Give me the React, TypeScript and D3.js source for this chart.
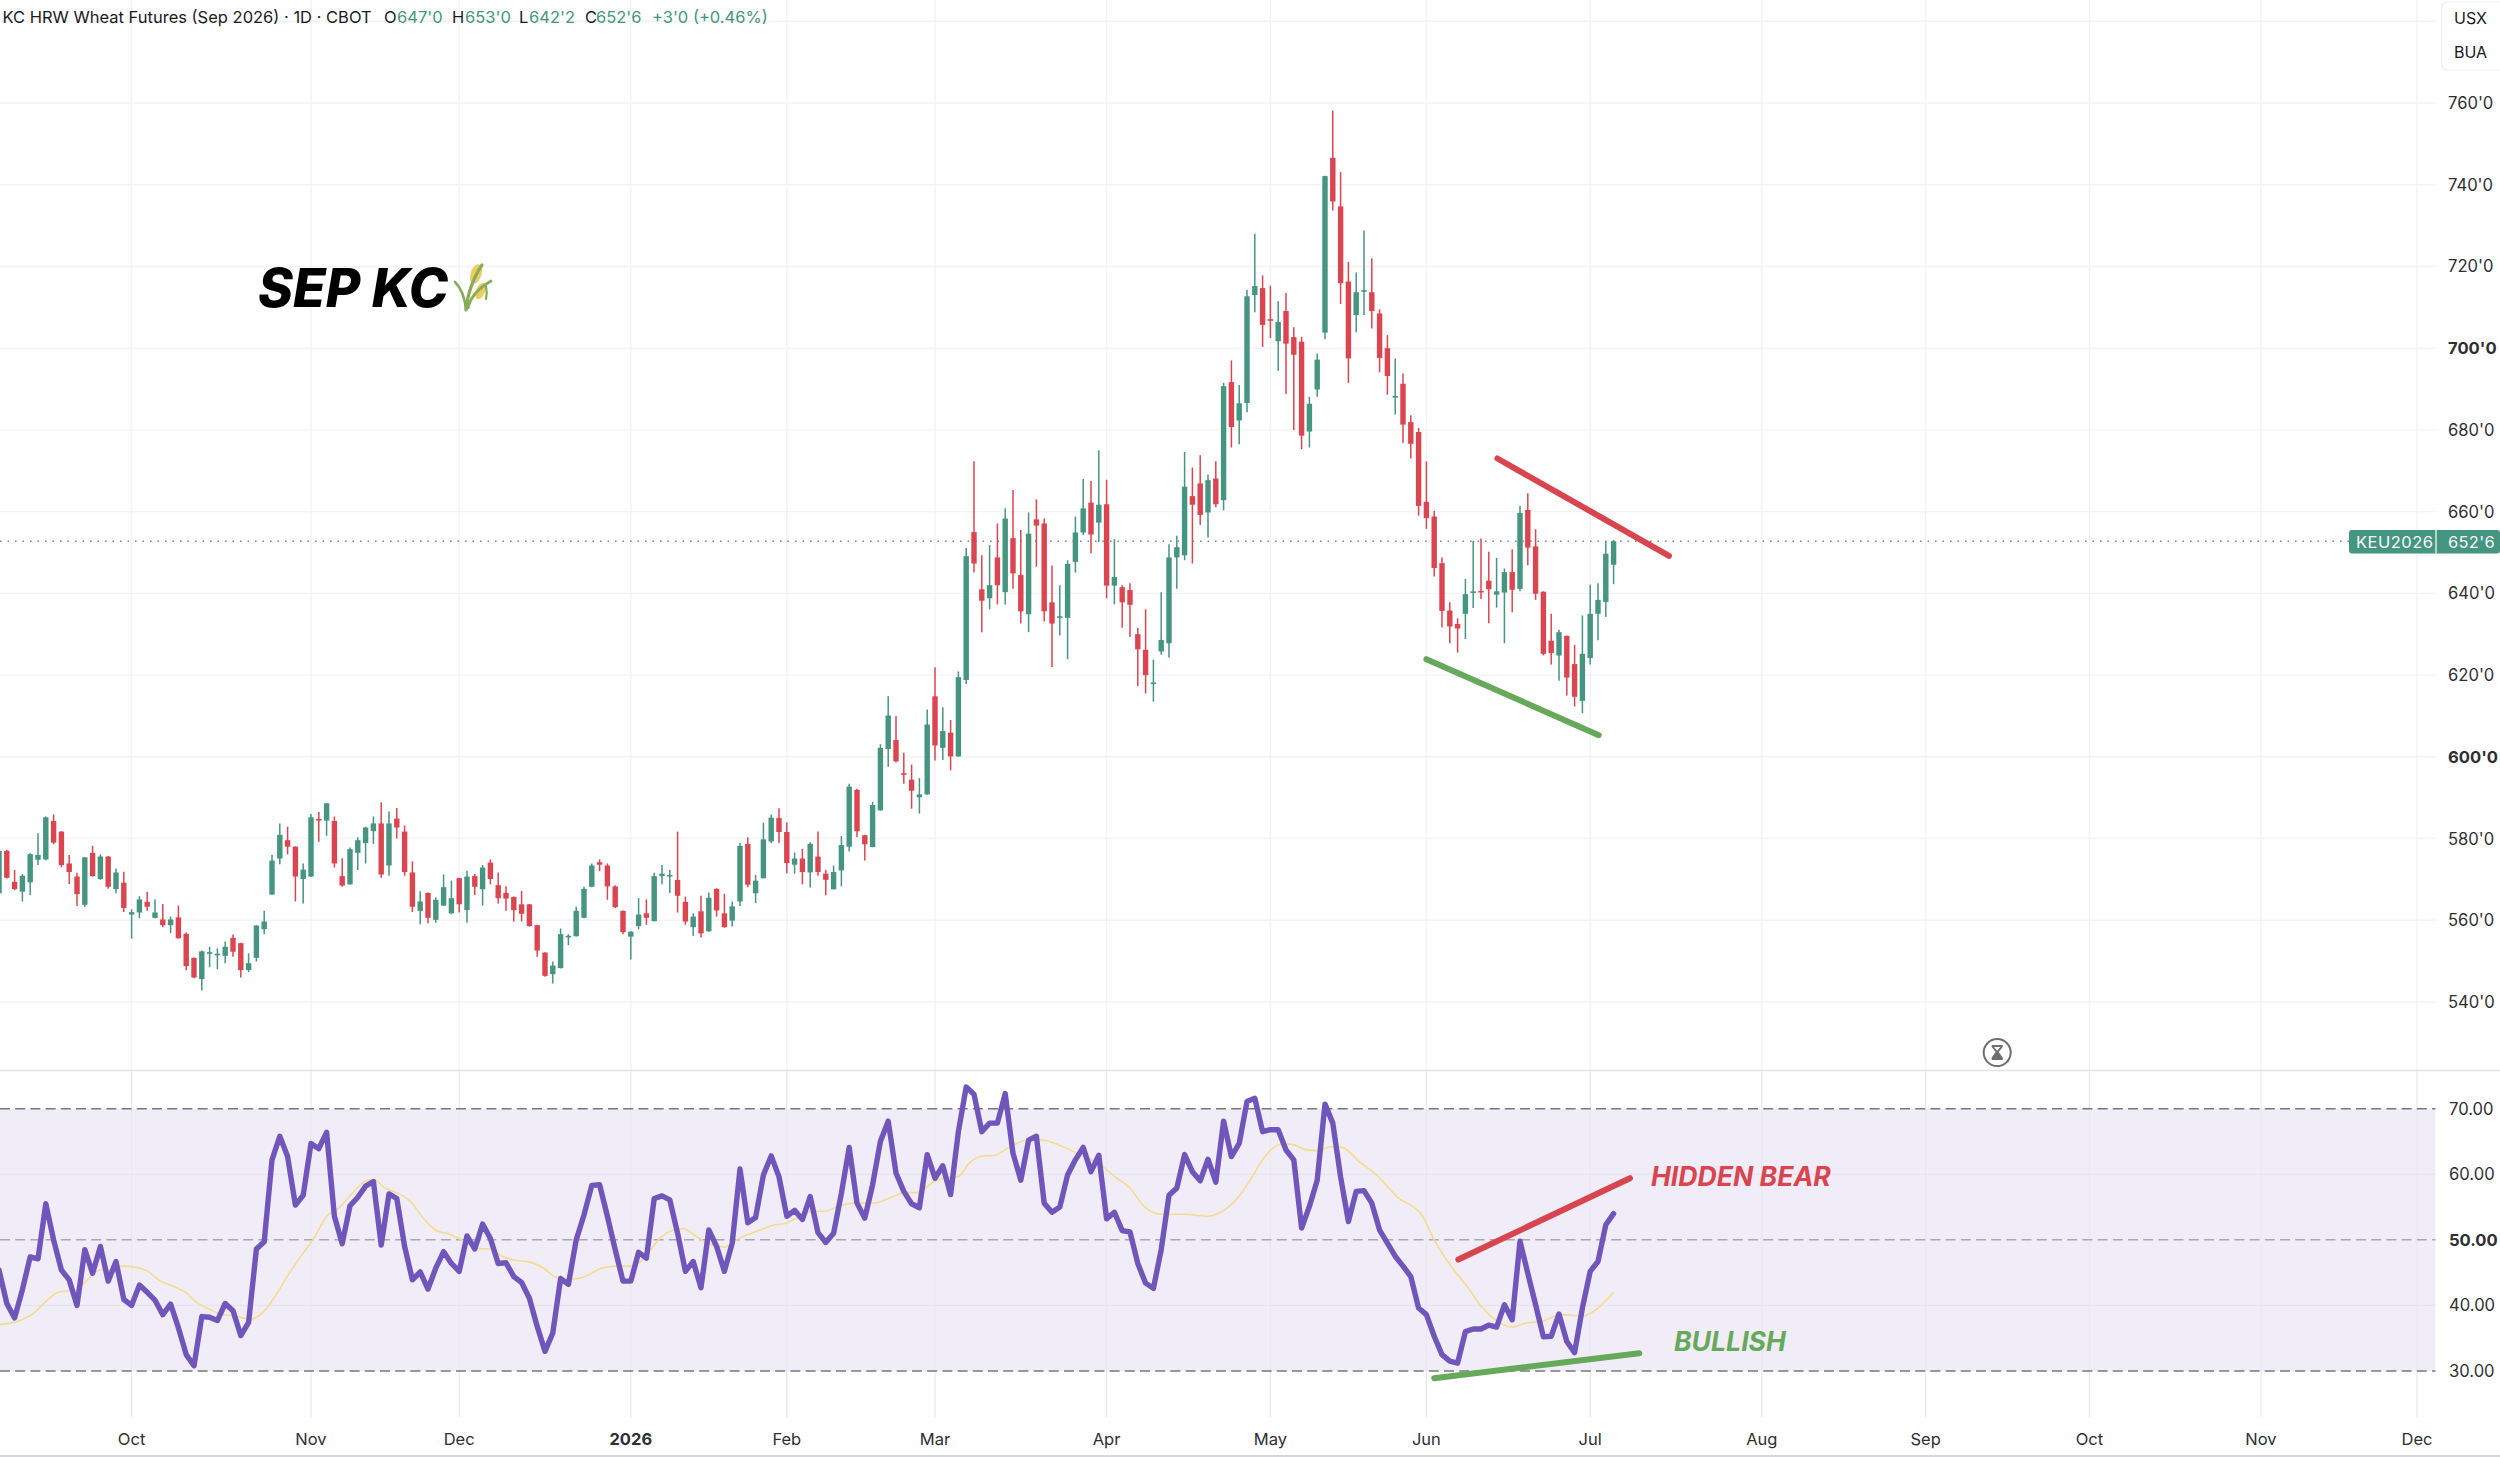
import React from "react";
import * as d3 from "d3";

const opens = [
566.6,577.0,569.4,567.0,569.3,574.8,574.9,584.3,581.7,573.9,
570.7,563.8,576.5,570.1,575.6,567.6,569.2,561.4,561.9,564.5,
560.6,560.2,558.8,560.7,556.7,550.8,545.6,552.0,551.6,551.3,
555.7,554.4,547.8,550.8,557.8,566.3,575.1,579.6,578.0,570.1,
570.7,584.8,584.4,584.3,570.8,568.8,576.5,578.9,581.8,583.7,
573.4,584.9,581.7,571.7,562.3,566.7,560.1,563.6,561.7,570.3,
562.5,570.8,567.6,574.1,568.6,566.7,565.7,563.9,563.9,558.8,
552.1,546.8,548.3,556.0,556.1,560.6,568.2,574.2,573.4,568.3,
562.3,556.0,558.6,561.7,559.8,570.8,570.9,569.9,564.5,558.3,
562.2,557.3,567.7,561.7,559.9,564.6,578.7,566.6,570.3,579.3,
585.0,581.6,573.6,575.1,571.7,575.6,571.4,567.6,572.2,578.0,
591.9,580.8,577.9,586.9,601.9,604.1,596.0,594.4,590.1,590.8,
614.8,602.2,605.9,600.1,618.8,655.0,641.0,638.8,648.8,640.3,
653.5,644.5,634.9,658.1,657.1,637.8,634.0,634.0,647.7,654.9,
662.2,657.3,661.8,641.9,641.5,640.8,630.0,626.2,617.8,625.8,
627.8,648.8,649.3,663.8,666.9,659.8,668.1,662.8,691.7,682.3,
686.6,713.0,714.7,707.1,701.7,709.1,702.7,701.6,679.6,689.9,
703.8,746.6,734.7,716.3,708.1,713.8,713.7,708.5,700.0,687.9,
691.3,681.9,679.5,662.4,658.8,647.4,635.8,632.5,635.0,640.3,
640.6,643.1,639.7,640.2,645.2,641.1,660.4,651.5,640.4,628.4,
624.8,629.6,622.7,613.7,624.2,635.0,637.9,647.0];

const closes = [
577.0,570.4,567.6,570.9,576.2,576.0,585.2,579.0,573.5,571.8,
566.4,575.4,570.8,575.6,568.2,571.7,563.0,562.0,565.1,563.3,
561.9,558.8,560.2,555.6,548.8,546.0,552.4,552.2,551.8,553.5,
552.3,547.8,549.5,558.7,559.7,574.6,580.9,578.0,570.7,572.4,
585.2,584.6,588.6,573.9,568.5,577.4,579.6,582.7,583.7,571.2,
583.7,582.7,571.8,563.3,564.6,560.6,565.0,568.1,565.4,563.9,
570.7,568.2,572.9,570.1,565.4,565.3,562.5,561.6,558.6,552.6,
546.4,548.9,556.6,556.2,562.3,567.7,573.4,573.6,568.3,563.2,
557.1,557.2,561.4,560.6,570.8,571.4,571.1,566.0,559.7,560.9,
556.8,565.5,562.4,558.3,563.4,578.2,568.7,569.7,579.8,585.1,
581.6,574.0,575.1,571.8,578.7,571.8,569.9,571.8,578.4,592.7,
581.8,578.6,588.2,602.2,610.1,598.9,595.6,591.7,590.8,607.9,
602.8,606.3,600.1,619.5,649.1,647.3,638.2,642.0,642.0,658.3,
644.9,635.6,654.6,656.6,635.6,632.6,634.4,647.2,654.9,660.8,
654.4,661.7,641.9,644.0,637.8,637.2,626.3,620.0,618.2,628.6,
648.8,651.3,666.1,661.7,659.2,667.7,661.8,690.7,680.7,686.5,
712.7,715.2,705.7,706.7,706.4,701.1,698.4,678.6,686.4,697.2,
742.1,735.9,715.9,697.5,713.7,714.2,709.1,697.6,693.2,688.3,
681.3,676.6,661.4,658.4,646.2,635.7,631.9,631.4,639.8,640.5,
640.4,641.0,640.5,645.2,640.9,659.7,651.2,639.9,625.2,625.4,
630.5,619.4,614.7,625.2,635.0,638.4,649.7,652.75];

const highs = [
577.2,577.2,572.3,571.3,576.4,581.3,585.4,585.9,581.8,576.0,
571.6,575.5,578.2,576.1,575.7,572.7,571.9,562.7,565.9,567.0,
565.1,564.0,560.9,563.6,557.0,550.9,552.6,553.5,553.1,554.8,
556.5,554.5,551.9,558.8,562.3,576.0,583.7,582.9,578.1,573.9,
586.0,586.5,588.7,585.4,575.2,577.8,580.3,582.9,585.4,588.9,
586.6,587.5,583.2,574.4,567.1,566.8,565.6,571.2,569.7,570.4,
572.1,571.3,573.5,574.9,571.7,568.3,565.8,567.2,564.0,558.9,
552.2,549.9,558.0,556.6,563.3,568.2,573.9,574.9,573.9,568.6,
562.4,557.3,565.4,565.1,571.6,573.5,572.3,581.7,565.8,561.7,
566.0,566.8,567.8,566.5,564.6,578.9,580.3,571.1,583.9,585.9,
587.4,583.9,576.6,577.5,579.1,581.7,572.3,573.4,580.6,593.4,
592.2,580.9,589.0,603.1,614.8,610.0,601.0,598.1,594.8,611.6,
621.9,612.1,609.0,620.9,651.1,672.3,649.3,651.8,657.1,660.8,
665.3,655.5,659.8,663.0,658.3,646.8,642.0,648.1,658.8,668.0,
667.5,675.0,667.8,653.3,642.0,642.5,631.5,636.1,623.8,640.3,
652.0,654.1,674.6,670.8,673.8,669.1,672.3,691.5,697.0,691.0,
714.3,728.0,717.8,715.3,711.5,713.5,705.1,702.8,688.1,698.7,
742.2,758.1,743.1,721.1,718.5,728.8,722.0,709.5,703.2,697.5,
693.8,683.6,680.5,672.3,660.2,648.8,637.8,633.9,643.5,652.9,
653.4,650.2,648.7,646.1,650.8,661.4,664.5,655.7,640.5,635.0,
631.1,629.7,627.4,634.6,642.1,642.5,652.8,653.0];

const lows = [
564.4,570.2,567.4,564.6,566.2,573.5,574.7,578.6,573.0,568.9,
563.5,563.2,570.7,569.9,567.7,566.6,562.0,555.5,560.5,562.3,
560.5,558.3,556.8,555.5,547.8,545.8,542.8,548.5,548.0,549.5,
551.1,546.0,547.3,549.9,556.6,566.3,573.7,576.1,564.6,564.1,
570.6,579.2,580.7,572.9,568.2,568.7,572.3,573.9,578.7,570.4,
570.9,580.0,570.9,562.0,559.0,559.2,559.4,563.5,561.5,561.9,
559.4,566.2,563.6,568.8,564.1,562.3,559.7,559.7,558.4,551.1,
546.2,544.5,548.2,553.9,556.0,560.5,568.1,572.0,565.0,563.0,
556.6,550.4,557.8,558.9,559.7,568.8,566.7,561.9,558.9,556.2,
555.8,557.2,560.9,558.2,558.5,563.5,568.1,564.2,570.2,578.9,
578.9,571.5,571.4,568.8,568.0,570.9,566.1,567.5,568.3,576.8,
580.3,574.6,577.9,586.8,597.6,598.6,593.4,587.3,586.1,590.7,
599.1,599.2,596.7,600.0,617.8,645.1,630.5,636.1,637.3,637.3,
641.1,632.6,630.5,646.5,633.1,622.0,629.7,623.9,645.1,654.3,
649.8,652.6,638.8,637.3,631.6,629.3,617.3,615.5,613.5,625.0,
624.3,641.1,648.1,647.3,656.7,653.7,661.1,660.3,675.7,676.5,
684.3,708.8,700.3,702.5,694.5,688.8,680.0,675.3,675.7,688.1,
702.2,733.7,710.8,691.5,703.9,708.1,704.8,694.1,688.6,683.8,
676.8,673.0,659.0,655.8,644.1,631.7,627.8,625.5,628.8,636.4,
638.6,632.7,636.5,627.8,635.4,640.5,646.9,638.4,624.8,622.6,
618.6,615.0,612.3,610.7,622.6,628.5,634.2,642.25];

const rsiValues = [
45.4,40.3,38.1,42.4,47.4,47.1,55.5,50.0,45.4,43.9,
40.0,48.5,44.9,49.0,43.7,46.7,40.9,40.0,43.1,42.0,
40.8,38.6,40.2,36.6,32.5,30.8,38.3,38.2,37.7,40.3,
39.2,35.4,37.4,48.6,49.7,62.2,65.8,62.7,55.3,56.8,
64.7,63.9,66.4,53.6,49.4,55.2,56.5,58.2,58.9,49.2,
57.0,56.3,49.0,43.9,45.1,42.5,45.7,48.2,46.4,45.2,
50.6,48.6,52.4,50.2,46.4,46.5,44.4,43.5,41.1,36.8,
33.0,35.8,44.1,43.2,50.0,53.8,58.3,58.4,53.6,48.5,
43.7,43.7,48.1,47.2,56.3,56.7,56.1,51.0,45.2,46.7,
42.7,51.5,49.0,45.2,49.5,60.8,52.6,53.4,59.9,62.8,
59.6,53.6,54.5,53.1,56.6,51.1,49.6,51.0,57.1,64.1,
55.6,53.3,58.4,65.0,68.1,60.2,57.4,55.5,54.9,63.0,
59.4,61.3,56.9,66.5,73.3,72.2,66.5,67.8,67.8,72.3,
63.2,59.1,65.2,65.8,55.6,54.2,55.0,59.9,62.2,64.1,
60.4,62.9,53.2,54.2,51.4,51.2,46.4,43.4,42.6,48.5,
56.8,57.9,63.0,60.4,59.0,62.3,58.8,68.1,62.7,64.7,
71.1,71.6,66.5,66.8,66.8,63.7,62.2,51.8,55.1,59.1,
70.7,67.8,59.6,52.8,57.4,57.5,55.6,51.5,49.5,47.5,
46.0,44.4,39.6,38.6,35.3,32.5,31.5,31.2,36.0,36.4,
36.4,37.0,36.7,40.1,37.8,49.8,44.9,40.1,35.2,35.3,
38.7,34.5,32.8,39.6,45.2,46.7,52.3,54.0];

const maIndex = [
0.1,2.4,4.4,6,7.6,9.9,11.6,12.9,14.2,15.8,17.5,19.1,20.7,22.4,24,25.3,27,28.3,30.2,32.2,33.8,35.4,37.1,38.7,40.4,42,43.6,45.3,46.9,48,
49.5,51.5,52.8,54.4,56.1,57.7,59.3,61.3,62.9,64.5,66.2,68.1,69.8,71.4,73.4,75.3,77.3,79.3,81.2,82.9,84.8,86.5,87.8,89.4,91,93,95,97.6,99.5,100.8,102.2,
104.1,106,107.8,109.6,112.2,114.4,116.3,117.7,119.9,121.4,122.9,124.4,125.8,127.7,129.5,131.4,133.2,135.4,137.2,139.1,140.9,143.1,145,146.8,149,152,154.9,156.4,158.6,160.4,162.3,164.1,165.6,167.4,169.2,170.7,172.2,174.4,176.6,179.2,182.5,184,186.2,188.4,190.2,192.1,193.9,195.7,197.9,200.2,203.1,205,207];
const maValues = [
37.1,37.6,38.8,40.6,42.0,42.4,44.2,45.4,45.4,46.0,45.8,45.2,43.7,42.9,41.9,40.5,39.4,38.7,38.4,37.9,38.9,41.4,44.7,47.5,50.3,53.6,54.9,57.1,58.9,59.2,
57.9,56.9,55.8,53.3,51.4,50.9,50.0,48.7,48.6,47.5,46.9,46.6,45.7,44.3,44.0,44.5,45.7,46.0,46.0,47.5,50.3,51.5,51.7,50.5,49.4,48.9,50.3,51.5,52.3,52.5,53.3,
54.3,54.4,55.2,55.6,55.6,56.5,57.2,57.2,58.9,59.5,59.6,61.7,62.7,62.9,64.1,65.1,65.3,64.7,63.8,62.7,61.7,59.6,57.9,55.1,53.9,53.9,53.6,54.1,56.1,59.1,62.7,64.5,64.6,63.8,63.6,64.2,64.1,61.9,59.9,56.6,53.6,50.0,45.9,42.6,39.6,37.6,36.7,37.3,37.6,38.6,38.4,39.6,42.0];

const monthLabels = ["Oct","Nov","Dec","2026","Feb","Mar","Apr","May","Jun","Jul","Aug","Sep","Oct","Nov","Dec"];
const monthIndex = [17,40,59,81,101,120,142,163,183,204,226,247,268,290,310];
const priceTicks = [760,740,720,700,680,660,640,620,600,580,560,540];
const priceGrid = [780,760,740,720,700,680,660,640,620,600,580,560,540];
const boldPrices = [700,600];
const rsiTicks = [70,60,50,40,30];

const GREEN = "#459580";
const RED = "#db4550";
const LINE_RED = "#d8454f";
const LINE_GREEN = "#66a95a";
const FONT = "Inter, Roboto, sans-serif";

const x = d3.scaleLinear().domain([0, 310]).range([-1, 2417]);
const yP = d3.scaleLinear().domain([540, 760]).range([1002, 103]);
const yR = d3.scaleLinear().domain([30, 70]).range([1371, 1108.7]);

const fmtPrice = (p: number) => `${p}'0`;

function rsiPath() {
  return d3.line<number>().x((_, i) => x(i)).y(d => yR(d)).curve(d3.curveLinear)(rsiValues) || "";
}
function maPath() {
  return d3.line<number>().x((_, i) => x(maIndex[i])).y(d => yR(d)).curve(d3.curveMonotoneX)(maValues) || "";
}

export default function App() {
  const right = 2435.5;
  return (
    <svg width={2500} height={1457} viewBox="0 0 2500 1457"
      style={{ position: "absolute", left: 0, top: 0, display: "block", background: "#fff" }}
      fontFamily={FONT}>
      <rect x={0} y={0} width={2500} height={1457} fill="#fff" />

      {/* horizontal grid */}
      {priceGrid.map(p => (
        <line key={p} x1={0} x2={right} y1={yP(p)} y2={yP(p)} stroke="#f2f3f6" strokeWidth={1.4} />
      ))}

      {/* RSI band */}
      <rect x={0} width={right} y={yR(70)} height={yR(30) - yR(70)} fill="#f0edf8" />
      {[60, 40].map(v => (
        <line key={v} x1={0} x2={right} y1={yR(v)} y2={yR(v)} stroke="#e7e4f1" strokeWidth={1.2} />
      ))}

      {/* vertical grid */}
      {monthIndex.map((m, i) => (
        <g key={i}>
          <line x1={x(m)} x2={x(m)} y1={0} y2={1070} stroke="#f2f3f6" strokeWidth={1.4} />
          <line x1={x(m)} x2={x(m)} y1={1070} y2={1417} stroke="#e9e8f0" strokeWidth={1.2} />
        </g>
      ))}

      {/* pane separators */}
      <line x1={0} x2={2500} y1={1070.5} y2={1070.5} stroke="#e1e2e6" strokeWidth={1.6} />
      <line x1={0} x2={2500} y1={1456} y2={1456} stroke="#d6d7da" strokeWidth={2} />

      {/* RSI levels */}
      {[70, 30].map(v => (
        <line key={v} x1={0} x2={right} y1={yR(v)} y2={yR(v)} stroke="#77787f" strokeWidth={1.5} strokeDasharray="10 5.2" />
      ))}
      <line x1={0} x2={right} y1={yR(50)} y2={yR(50)} stroke="#a9a8b2" strokeWidth={1.5} strokeDasharray="10 5.2" />

      {/* last price dotted line */}
      <line x1={0} x2={2349} y1={yP(652.75)} y2={yP(652.75)} stroke="#7d8a88" strokeWidth={1.3} strokeDasharray="1.6 5.9" />

      {/* candles */}
      {opens.map((o, i) => {
        const c = closes[i];
        const color = c >= o ? GREEN : RED;
        const top = yP(Math.max(o, c));
        const h = Math.max(yP(Math.min(o, c)) - top, 1.6);
        return (
          <g key={i}>
            <line x1={x(i)} x2={x(i)} y1={yP(highs[i])} y2={yP(lows[i])} stroke={color} strokeWidth={1.5} />
            <rect x={x(i) - 2.7} width={5.4} y={top} height={h} fill={color} />
          </g>
        );
      })}

      {/* RSI + MA */}
      <path d={maPath()} fill="none" stroke="#f3dc90" strokeWidth={1.6} />
      <path d={rsiPath()} fill="none" stroke="#7055bb" strokeWidth={5.4} strokeLinejoin="round" strokeLinecap="round" />

      {/* trend lines */}
      <TrendLine a={[192.1, yP(673.0)]} b={[214.1, yP(649.2)]} color={LINE_RED} />
      <TrendLine a={[183.0, yP(623.9)]} b={[205.1, yP(605.3)]} color={LINE_GREEN} />
      <TrendLine a={[187.1, yR(47.0)]} b={[209.1, yR(59.4)]} color={LINE_RED} />
      <TrendLine a={[184.0, yR(28.9)]} b={[210.3, yR(32.7)]} color={LINE_GREEN} />

      {/* annotations */}
      <text x={1651} y={1186} fontSize={26.6} fontWeight={700} fontStyle="italic" fill={LINE_RED}>HIDDEN BEAR</text>
      <text x={1674} y={1351} fontSize={26.6} fontWeight={700} fontStyle="italic" fill={LINE_GREEN}>BULLISH</text>
      <text x={258} y={307} fontSize={53} fontWeight={800} fontStyle="italic" fill="#000">SEP KC</text>
      <Wheat />

      {/* header */}
      <text y={22.5} fontSize={16.5} fill="#1a1a1f">
        <tspan x={2.5}>KC HRW Wheat Futures (Sep 2026) · 1D · CBOT</tspan>
        <tspan x={384}>O</tspan><tspan x={397} fill={GREEN}>647'0</tspan>
        <tspan x={452}>H</tspan><tspan x={465} fill={GREEN}>653'0</tspan>
        <tspan x={519}>L</tspan><tspan x={529} fill={GREEN}>642'2</tspan>
        <tspan x={585}>C</tspan><tspan x={596} fill={GREEN}>652'6</tspan>
        <tspan x={652} fill={GREEN}>+3'0 (+0.46%)</tspan>
      </text>

      {/* price axis */}
      {priceTicks.map(p => (
        <text key={p} x={2448} y={yP(p) + 6} fontSize={16.6} fontWeight={boldPrices.includes(p) ? 700 : 400}
          fill="#2e2e33">{fmtPrice(p)}</text>
      ))}
      {/* RSI axis */}
      {rsiTicks.map(v => (
        <text key={v} x={2449} y={yR(v) + 6} fontSize={16.6} fontWeight={v === 50 ? 700 : 400} fill="#2e2e33">{v.toFixed(2)}</text>
      ))}

      {/* time axis */}
      {monthLabels.map((m, i) => (
        <text key={i} x={x(monthIndex[i])} y={1445} textAnchor="middle" fontSize={16.5}
          fontWeight={m === "2026" ? 700 : 400} fill="#2e2e33">{m}</text>
      ))}

      {/* currency / unit box */}
      <rect x={2441.5} y={2} width={70} height={68} rx={6} fill="#fff" stroke="#f0f0f2" strokeWidth={1.2} />
      <text x={2470.5} y={23.5} textAnchor="middle" fontSize={16} fill="#1a1a1f">USX</text>
      <text x={2470.5} y={58} textAnchor="middle" fontSize={16} fill="#1a1a1f">BUA</text>

      {/* last price tag */}
      <rect x={2349} y={530} width={151} height={23.5} rx={3} fill={GREEN} />
      <line x1={2436} x2={2436} y1={530} y2={553.5} stroke="#fff" strokeWidth={1.2} />
      <text x={2356} y={547.5} fontSize={16.5} letterSpacing={0.5} fill="#f4fbf8">KEU2026</text>
      <text x={2448} y={547.5} fontSize={16.5} letterSpacing={0.3} fill="#f4fbf8">652'6</text>

      {/* hourglass */}
      <g transform="translate(1997.2,1052.6)">
        <ellipse rx={13.5} ry={13.5} fill="#fff" stroke="#6e6e6e" strokeWidth={2} />
        <path d="M-5.5,-7.5 H5.5 V-5.5 L1.5,-0.5 L5.5,5 V7.5 H-5.5 V5 L-1.5,-0.5 L-5.5,-5.5 Z" fill="#6e6e6e" />
        <path d="M-3.2,-5.5 H3.2 L0,-1.8 Z" fill="#fff" />
      </g>
    </svg>
  );
}

function TrendLine({ a, b, color }: { a: [number, number]; b: [number, number]; color: string }) {
  return <line x1={x(a[0])} y1={a[1]} x2={x(b[0])} y2={b[1]} stroke={color} strokeWidth={6} strokeLinecap="round" />;
}

function Wheat() {
  return (
    <g transform="translate(453,262)" fill="none" strokeLinecap="round">
      <ellipse cx={23} cy={12} rx={5.5} ry={10} transform="rotate(18 23 12)" fill="#efcb62" />
      <ellipse cx={27.5} cy={29} rx={4.5} ry={8.5} transform="rotate(22 27.5 29)" fill="#efcb62" />
      <path d="M13,48 C12,36 8,26 2,20" stroke="#86ad55" strokeWidth={2.6} />
      <path d="M13,48 C14,34 20,16 29,3" stroke="#86ad55" strokeWidth={3.2} />
      <path d="M15,46 C17,36 26,26 38,19" stroke="#86ad55" strokeWidth={2.8} />
      <path d="M33,24 C34,29 34,33 33,37" stroke="#86ad55" strokeWidth={2.2} />
    </g>
  );
}
